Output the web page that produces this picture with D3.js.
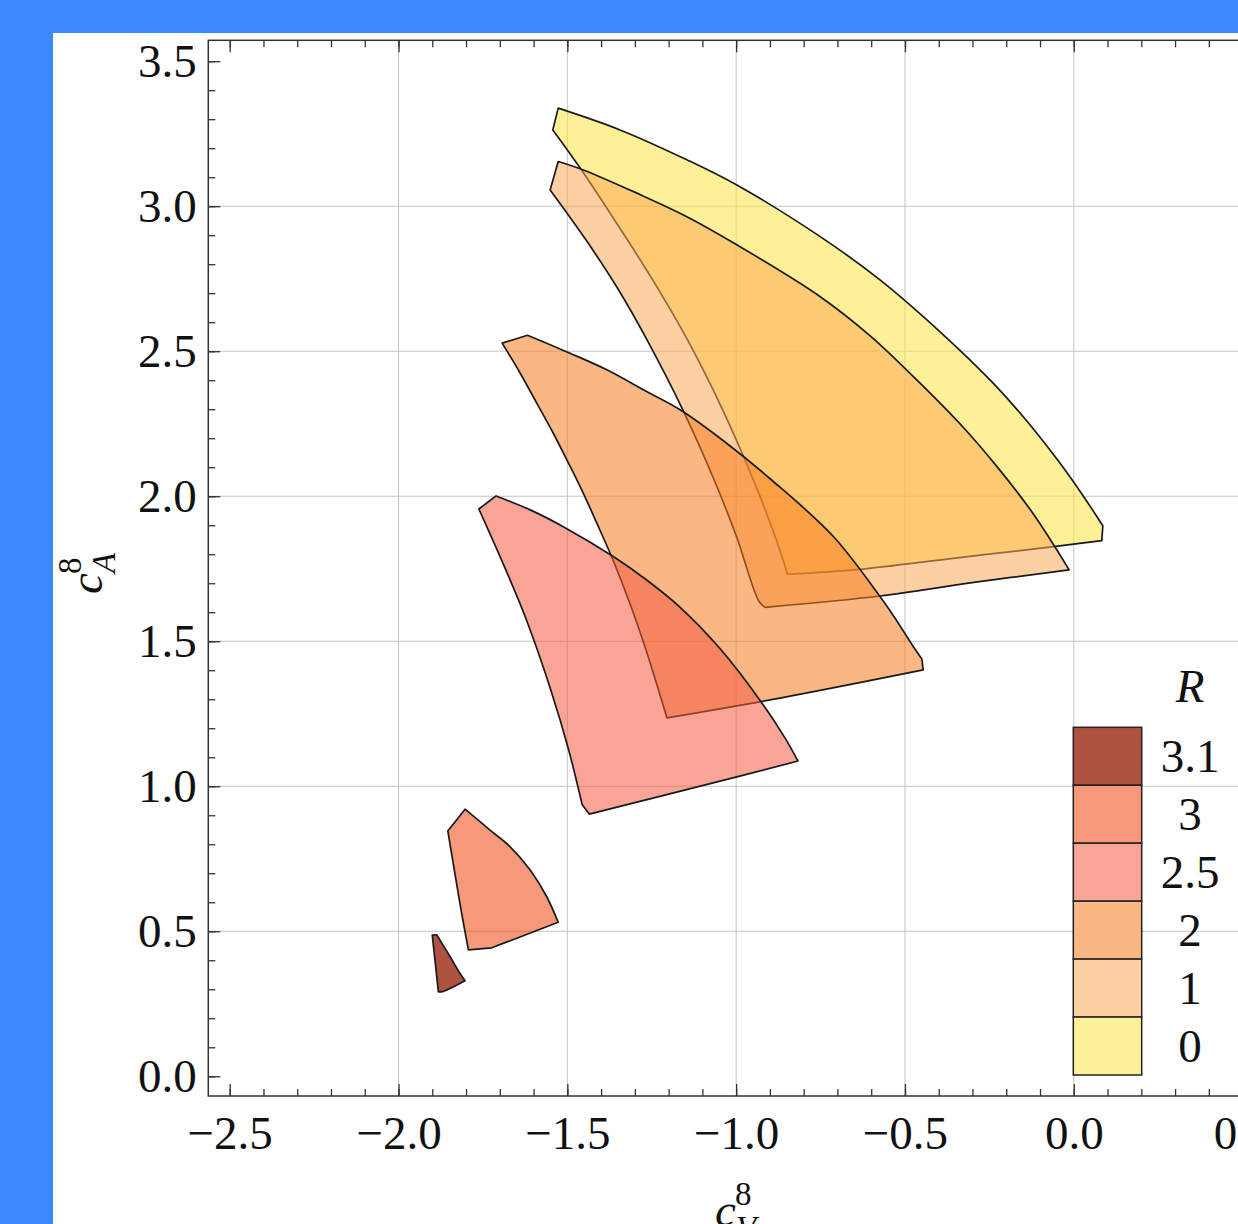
<!DOCTYPE html>
<html>
<head>
<meta charset="utf-8">
<script src="https://cdn.jsdelivr.net/npm/d3@7"></script>
<style>
  html, body { margin: 0; padding: 0; background: #3b88fd; overflow: hidden; }
  svg { display: block; }
  svg text { font-family: "Liberation Serif" !important; }
</style>
</head>
<body>
<svg id="chart" width="1238" height="1224" font-family="Liberation Serif"></svg>
<script>
// legend levels (top to bottom) and their colours
const levels = ["3.1", "3", "2.5", "2", "1", "0"];
const levelColors = ["#b05241", "#f6997b", "#f8a597", "#fbb783", "#fdd0a3", "#fef096"];

// region outlines as lists of edges, [cV, cA] pairs
const regionR0 = [
  [[-1.527, 3.338], [-1.344, 3.263], [-1.146, 3.160], [-0.998, 3.073], [-0.751, 2.895], [-0.574, 2.746],
   [-0.396, 2.567], [-0.248, 2.401], [-0.149, 2.273], [-0.050, 2.128], [0.028, 2.001], [0.086, 1.898]],
  [[0.086, 1.898], [0.083, 1.847]],
  [[0.083, 1.847], [-0.060, 1.826], [-0.357, 1.786], [-0.633, 1.748], [-0.848, 1.731]],
  [[-0.848, 1.731], [-0.881, 1.849], [-0.949, 2.056], [-1.040, 2.298], [-1.144, 2.539], [-1.241, 2.734],
   [-1.341, 2.918], [-1.458, 3.125], [-1.543, 3.263]]
];
const regionR1 = [
  [[-1.527, 3.154], [-1.453, 3.125], [-1.294, 3.045], [-1.146, 2.964], [-0.998, 2.867], [-0.751, 2.688],
   [-0.603, 2.553], [-0.465, 2.401], [-0.327, 2.237], [-0.228, 2.103], [-0.129, 1.954], [-0.055, 1.824],
   [-0.014, 1.746]],
  [[-0.014, 1.746], [-0.307, 1.701], [-0.574, 1.656], [-0.914, 1.617]],
  [[-0.914, 1.617], [-0.932, 1.637], [-0.999, 1.861], [-1.065, 2.056], [-1.158, 2.298], [-1.264, 2.539],
   [-1.348, 2.711], [-1.445, 2.884], [-1.551, 3.056]]
];
const regionR2 = [
  [[-1.618, 2.555], [-1.492, 2.493], [-1.383, 2.436], [-1.265, 2.361], [-1.166, 2.298], [-1.033, 2.187],
   [-0.895, 2.056], [-0.712, 1.861], [-0.574, 1.654], [-0.524, 1.570], [-0.475, 1.481], [-0.450, 1.439]],
  [[-0.450, 1.439], [-0.446, 1.401]],
  [[-0.446, 1.401], [-0.870, 1.304], [-1.205, 1.236]],
  [[-1.205, 1.236], [-1.230, 1.332], [-1.267, 1.470], [-1.313, 1.625], [-1.367, 1.786], [-1.413, 1.908],
   [-1.453, 2.011], [-1.497, 2.115], [-1.542, 2.218], [-1.591, 2.322], [-1.640, 2.425], [-1.693, 2.528]]
];
const regionR25 = [
  [[-1.711, 2.001], [-1.610, 1.953], [-1.512, 1.895], [-1.364, 1.792], [-1.265, 1.711], [-1.166, 1.617],
   [-1.048, 1.475], [-0.929, 1.296], [-0.855, 1.166], [-0.817, 1.087]],
  [[-0.817, 1.087], [-1.033, 1.022], [-1.435, 0.904]],
  [[-1.435, 0.904], [-1.456, 0.936]],
  [[-1.456, 0.936], [-1.496, 1.125], [-1.549, 1.332], [-1.621, 1.573], [-1.661, 1.688], [-1.708, 1.815],
   [-1.762, 1.956]]
];
const regionR3 = [
  [[-1.803, 0.921], [-1.729, 0.849], [-1.670, 0.792], [-1.610, 0.711], [-1.561, 0.619], [-1.527, 0.531]],
  [[-1.527, 0.531], [-1.724, 0.443]],
  [[-1.724, 0.443], [-1.793, 0.436]],
  [[-1.793, 0.436], [-1.813, 0.562], [-1.838, 0.734], [-1.854, 0.846]]
];
const regionR31 = [
  [[-1.887, 0.488], [-1.847, 0.412], [-1.818, 0.355], [-1.803, 0.329]],
  [[-1.803, 0.329], [-1.869, 0.292], [-1.882, 0.291]],
  [[-1.882, 0.291], [-1.900, 0.487]]
];

const regions = [
  { level: "0", edges: regionR0 },
  { level: "1", edges: regionR1 },
  { level: "2", edges: regionR2 },
  { level: "2.5", edges: regionR25 },
  { level: "3", edges: regionR3 },
  { level: "3.1", edges: regionR31 }
];

// axes
const xDomain = [-2.5634, 0.5634];
const yDomain = [-0.068, 3.572];
const xMajor = [-2.5, -2.0, -1.5, -1.0, -0.5, 0.0, 0.5];
const yMajor = [0.0, 0.5, 1.0, 1.5, 2.0, 2.5, 3.0, 3.5];
const xGrid = [-2.0, -1.5, -1.0, -0.5, 0.0, 0.5];
const yGrid = [0.5, 1.0, 1.5, 2.0, 2.5, 3.0];

const svg = d3.select("#chart");
const W = 1238, H = 1224;
const frame = { left: 208.3, top: 40.3, right: 1264, bottom: 1096 };
const fontSize = 47;

svg.append("rect").attr("width", W).attr("height", H).attr("fill", "#3b88fd");
svg.append("rect").attr("x", 53).attr("y", 33).attr("width", W).attr("height", H).attr("fill", "#fff");

const x = d3.scaleLinear().domain(xDomain).range([frame.left, frame.right]);
const y = d3.scaleLinear().domain(yDomain).range([frame.bottom, frame.top]);

svg.append("defs").append("clipPath").attr("id", "plotclip")
  .append("rect").attr("x", frame.left).attr("y", frame.top)
  .attr("width", frame.right - frame.left).attr("height", frame.bottom - frame.top);

// grid
const grid = svg.append("g").attr("stroke", "#c4c4c4").attr("stroke-width", 1);
grid.selectAll(".gx").data(xGrid).enter().append("line")
  .attr("x1", d => x(d)).attr("x2", d => x(d)).attr("y1", frame.top).attr("y2", frame.bottom);
grid.selectAll(".gy").data(yGrid).enter().append("line")
  .attr("y1", d => y(d)).attr("y2", d => y(d)).attr("x1", frame.left).attr("x2", frame.right);

// regions: semi-transparent fills chosen so that on white they match the legend swatches
function fillFor(hex) {
  const c = d3.rgb(hex);
  const a = Math.max(0.55, (255 - c.r) / 255, (255 - c.g) / 255, (255 - c.b) / 255);
  const base = d3.rgb(255 - (255 - c.r) / a, 255 - (255 - c.g) / a, 255 - (255 - c.b) / a);
  return { color: base.formatHex(), opacity: a };
}

// each edge is a smooth curve, corners between edges stay sharp
const edgeLine = d3.line().x(d => x(d[0])).y(d => y(d[1])).curve(d3.curveCatmullRom.alpha(0.5));
function outline(edges) {
  return edges.map((e, i) => {
    const s = edgeLine(e);
    return i === 0 ? s : "L" + s.slice(1);
  }).join("") + "Z";
}

const plot = svg.append("g").attr("clip-path", "url(#plotclip)");
plot.selectAll("path.region").data(regions).enter().append("path")
  .attr("class", "region")
  .attr("d", d => outline(d.edges))
  .attr("fill", d => fillFor(levelColors[levels.indexOf(d.level)]).color)
  .attr("fill-opacity", d => fillFor(levelColors[levels.indexOf(d.level)]).opacity)
  .attr("stroke", "#1a1a1a")
  .attr("stroke-width", 1.7)
  .attr("stroke-linejoin", "round");

// ticks, all pointing inward
const fmt = d3.format(".1f");
const xMinor = d3.range(-25, 6).map(d => d / 10);
const yMinor = d3.range(0, 36).map(d => d / 10);

function styleAxis(g) {
  g.select(".domain").remove();
  g.selectAll(".tick line").attr("stroke", "#333").attr("stroke-width", 1.3);
  g.attr("font-size", fontSize).attr("font-family", "Liberation Serif");
  g.selectAll(".tick text").attr("fill", "#111");
}

svg.append("g").attr("transform", `translate(0,${frame.bottom})`)
  .call(d3.axisBottom(x).tickValues(xMinor).tickSize(-7).tickFormat("")).call(styleAxis);
svg.append("g").attr("transform", `translate(0,${frame.bottom})`)
  .call(d3.axisBottom(x).tickValues(xMajor).tickSize(-12).tickPadding(20).tickFormat(fmt)).call(styleAxis);
svg.append("g").attr("transform", `translate(0,${frame.top})`)
  .call(d3.axisTop(x).tickValues(xMinor).tickSize(-7).tickFormat("")).call(styleAxis);
svg.append("g").attr("transform", `translate(0,${frame.top})`)
  .call(d3.axisTop(x).tickValues(xMajor).tickSize(-12).tickFormat("")).call(styleAxis);

svg.append("g").attr("transform", `translate(${frame.left},0)`)
  .call(d3.axisLeft(y).tickValues(yMinor).tickSize(-7).tickFormat("")).call(styleAxis);
svg.append("g").attr("transform", `translate(${frame.left},0)`)
  .call(d3.axisLeft(y).tickValues(yMajor).tickSize(-12).tickPadding(11.5).tickFormat(fmt)).call(styleAxis);
svg.append("g").attr("transform", `translate(${frame.right},0)`)
  .call(d3.axisRight(y).tickValues(yMinor).tickSize(-7).tickFormat("")).call(styleAxis);
svg.append("g").attr("transform", `translate(${frame.right},0)`)
  .call(d3.axisRight(y).tickValues(yMajor).tickSize(-12).tickFormat("")).call(styleAxis);

// frame
svg.append("rect")
  .attr("x", frame.left).attr("y", frame.top)
  .attr("width", frame.right - frame.left).attr("height", frame.bottom - frame.top)
  .attr("fill", "none").attr("stroke", "#333").attr("stroke-width", 1.5);

// legend
const legend = { left: 1073.3, top: 727.3, w: 68.4, h: 57.95, labelX: 1190 };
const lg = svg.append("g");
lg.selectAll("rect").data(levels).enter().append("rect")
  .attr("x", legend.left).attr("y", (d, i) => legend.top + i * legend.h)
  .attr("width", legend.w).attr("height", legend.h)
  .attr("fill", (d, i) => levelColors[i])
  .attr("stroke", "#222").attr("stroke-width", 1.5);
lg.selectAll("text.lab").data(levels).enter().append("text")
  .attr("class", "lab")
  .attr("x", legend.labelX).attr("y", (d, i) => legend.top + (i + 0.5) * legend.h)
  .attr("dy", "0.34em").attr("text-anchor", "middle")
  .attr("font-size", fontSize).text(d => d);
lg.append("text").attr("x", legend.labelX).attr("y", 702)
  .attr("text-anchor", "middle").attr("font-size", fontSize)
  .attr("font-style", "italic").text("R");

// axis titles: c with superscript 8 and a subscript
function axisTitle(g, sub) {
  g.append("text").attr("x", 0).attr("y", 0).attr("font-size", fontSize)
    .attr("font-style", "italic").text("c");
  g.append("text").attr("x", 20).attr("y", -21).attr("font-size", 33).text("8");
  g.append("text").attr("x", 21).attr("y", 13).attr("font-size", 33)
    .attr("font-style", "italic").text(sub);
}
axisTitle(svg.append("g").attr("transform", "translate(715,1226)"), "V");
axisTitle(svg.append("g").attr("transform", "translate(102,594) rotate(-90)"), "A");

// serif face on every text
svg.selectAll("text")
  .attr("font-family", "Liberation Serif")
  .style("font-family", '"Liberation Serif"')
  .attr("fill", "#111");
</script>
</body>
</html>
